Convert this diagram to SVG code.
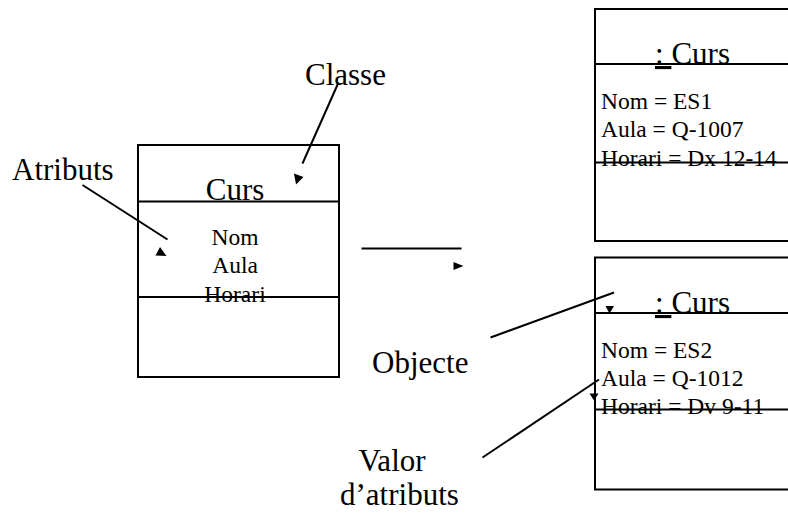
<svg xmlns="http://www.w3.org/2000/svg" width="788" height="521" viewBox="0 0 788 521">
<style>
.box{fill:none;stroke:#000;stroke-width:2}
.div{stroke:#000;stroke-width:2}
.ln{stroke:#000;stroke-width:2;fill:none}
.ah{fill:#000;stroke:none}
.big{font-family:"Liberation Serif","Times New Roman",serif;font-size:31px;fill:#000}
.sm{font-family:"Liberation Serif","Times New Roman",serif;font-size:23.5px;fill:#000}
</style>
<rect width="788" height="521" fill="#fff"/>
<g id="classe-curs">
<rect class="box" x="138" y="145" width="201" height="232"/>
<line class="div" x1="138" y1="201.5" x2="339" y2="201.5"/>
<line class="div" x1="138" y1="297" x2="339" y2="297"/>
<text class="big" x="235" y="200" text-anchor="middle">Curs</text>
<text class="sm" x="235" y="244.5" text-anchor="middle">Nom</text>
<text class="sm" x="235" y="273" text-anchor="middle">Aula</text>
<text class="sm" x="235" y="302" text-anchor="middle">Horari</text>
</g>
<g id="objecte-es1">
<rect class="box" x="595" y="9" width="210" height="232"/>
<line class="div" x1="595" y1="64" x2="805" y2="64"/>
<line class="div" x1="595" y1="162.5" x2="805" y2="162.5"/>
<text class="big" x="655" y="64"><tspan text-decoration="underline">: </tspan>Curs</text>
<text class="sm" x="601" y="109">Nom = ES1</text>
<text class="sm" x="601" y="137">Aula = Q-1007</text>
<text class="sm" x="601" y="165.5">Horari = Dx 12-14</text>
</g>
<g id="objecte-es2">
<rect class="box" x="595" y="257.5" width="210" height="232"/>
<line class="div" x1="595" y1="313" x2="805" y2="313"/>
<line class="div" x1="595" y1="409.5" x2="805" y2="409.5"/>
<text class="big" x="655" y="313"><tspan text-decoration="underline">: </tspan>Curs</text>
<text class="sm" x="601" y="357.5">Nom = ES2</text>
<text class="sm" x="601" y="385.5">Aula = Q-1012</text>
<text class="sm" x="601" y="413.5">Horari = Dv 9-11</text>
</g>
<g id="etiqueta-classe"><text class="big" x="305" y="85">Classe</text></g>
<g id="etiqueta-atributs"><text class="big" x="12" y="180">Atributs</text></g>
<g id="etiqueta-objecte"><text class="big" x="372" y="373">Objecte</text></g>
<g id="etiqueta-valor">
<text class="big" x="392" y="471" text-anchor="middle">Valor</text>
<text class="big" x="340" y="505">d’atributs</text>
</g>
<g id="connectors">
<line class="ln" x1="338.5" y1="82.5" x2="302.5" y2="163.5"/>
<polygon class="ah" points="294,173.5 303.5,177 296,184.5"/>
<line class="ln" x1="82.5" y1="185" x2="167.5" y2="239.5"/>
<polygon class="ah" points="160,247 155.5,255.5 166.5,256"/>
<line class="ln" x1="361.5" y1="248.5" x2="461.5" y2="248.5"/>
<polygon class="ah" points="453.5,262 453.5,270 463.5,266"/>
<line class="ln" x1="490.5" y1="337.5" x2="614" y2="292.5"/>
<polygon class="ah" points="605.5,306 614,306 609.5,313.5"/>
<line class="ln" x1="482.5" y1="457.5" x2="599" y2="379.5"/>
<polygon class="ah" points="589.5,393.5 598.5,393.5 594,400.5"/>
</g>
</svg>
